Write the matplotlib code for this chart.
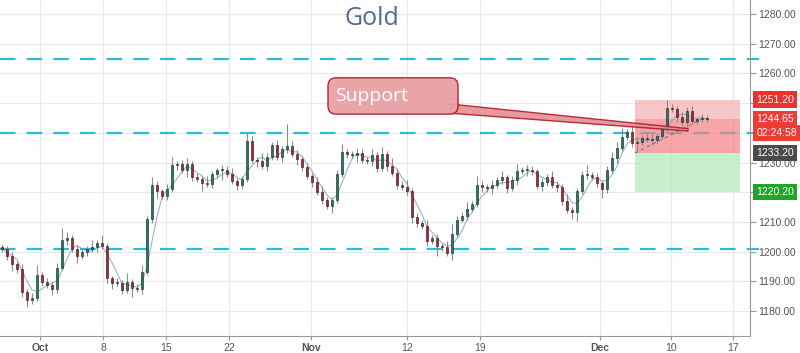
import matplotlib
matplotlib.use("Agg")
import matplotlib.pyplot as plt
import matplotlib.transforms as mtrans
from matplotlib.patches import FancyBboxPatch, Polygon, Rectangle
import numpy as np
import pandas as pd

# closing prices, one candle every 5 px of the original chart
closes = [
    1201.0, 1198.5, 1196.0, 1194.0, 1186.5, 1183.7, 1184.3, 1192.0, 1189.8, 1188.8,
    1187.4, 1194.5, 1204.0, 1204.5, 1201.0, 1198.7, 1200.0, 1200.8, 1201.5, 1202.8,
    1201.9, 1191.0, 1189.4, 1189.4, 1187.1, 1189.8, 1187.7, 1187.5, 1193.2, 1211.0,
    1222.5, 1220.4, 1218.7, 1221.0, 1229.2, 1229.5, 1227.5, 1229.5, 1225.0, 1224.5,
    1223.0, 1222.8, 1226.0, 1227.5, 1227.5, 1226.2, 1223.8, 1222.5, 1224.5, 1237.4,
    1231.0, 1230.5, 1228.8, 1232.0, 1236.0, 1231.8, 1234.5, 1235.5, 1233.0, 1231.2,
    1228.5, 1225.5, 1223.4, 1220.0, 1217.4, 1215.5, 1217.5, 1226.0, 1233.5, 1232.8,
    1232.5, 1233.2, 1231.0, 1230.5, 1232.5, 1228.0, 1233.0, 1229.0, 1226.5, 1222.5,
    1221.8, 1220.5, 1211.6, 1209.5, 1208.7, 1203.5, 1204.6, 1202.0, 1201.5, 1199.5,
    1206.0, 1210.8, 1212.0, 1214.5, 1216.0, 1222.5, 1221.8, 1221.5, 1222.5, 1224.0,
    1225.0, 1221.5, 1224.0, 1227.0, 1227.5, 1227.5, 1227.0, 1222.0, 1223.5, 1225.0,
    1222.5, 1221.8, 1217.0, 1214.0, 1213.5, 1220.5, 1225.8, 1225.8, 1225.0, 1223.0,
    1221.0, 1227.5, 1231.5, 1235.0, 1238.5, 1240.2, 1236.5, 1237.0, 1238.2, 1238.0,
    1237.5, 1239.0, 1241.5, 1248.5, 1248.0, 1245.3, 1243.5, 1247.5, 1244.0, 1244.5,
    1245.0, 1244.65,
]
first_open = 1201.5

wick_hi = [
    1.2, 0.8, 1.5, 0.9, 2.0, 1.1, 1.8, 3.5, 1.0, 1.3,
    0.9, 1.6, 4.0, 2.2, 1.0, 1.4, 0.8, 1.2, 2.5, 1.0,
    2.8, 1.1, 0.9, 1.7, 1.2, 3.0, 1.0, 1.5, 2.2, 0.9,
    2.5, 1.4, 0.8, 1.9, 2.6, 1.0, 1.5, 2.1, 0.9, 1.4,
    1.1, 2.3, 1.0, 0.8, 1.6, 1.2, 2.0, 0.9, 1.1, 2.4,
    1.5, 1.0, 2.8, 1.3, 0.9, 1.6, 1.1, 7.5, 1.8, 1.2,
    0.9, 1.4, 1.0, 1.7, 2.0, 1.1, 0.8, 1.5, 2.9, 1.2,
    1.0, 1.6, 1.3, 0.8, 1.9, 1.1, 2.2, 1.0, 2.6, 1.4,
    1.2, 2.4, 0.9, 1.5, 1.1, 1.8, 1.0, 1.3, 0.9, 2.0,
    3.2, 1.1, 1.5, 2.3, 1.0, 3.0, 1.4, 0.9, 1.6, 1.2,
    2.1, 0.9, 1.3, 2.5, 1.0, 1.7, 1.2, 0.8, 1.4, 1.1,
    2.0, 1.3, 1.0, 2.4, 1.2, 0.9, 1.5, 3.4, 1.1, 1.6,
    1.0, 1.4, 2.2, 1.8, 3.1, 1.2, 2.5, 1.5, 1.0, 1.7,
    2.0, 1.1, 1.4, 2.6, 1.2, 1.0, 1.8, 1.3, 1.5, 0.9,
    1.2, 1.0,
]
wick_lo = [
    1.0, 1.4, 2.5, 1.1, 1.8, 2.2, 1.3, 0.9, 1.5, 1.0,
    2.0, 1.2, 0.8, 1.6, 1.1, 2.4, 1.0, 1.3, 0.9, 1.7,
    1.1, 1.5, 2.0, 0.9, 1.3, 1.0, 3.0, 1.2, 1.6, 1.0,
    1.4, 2.2, 1.0, 1.3, 0.9, 1.8, 1.1, 2.4, 1.2, 1.0,
    2.6, 1.0, 1.5, 1.2, 3.3, 1.1, 0.9, 1.7, 1.3, 1.0,
    1.2, 2.0, 1.0, 1.5, 1.1, 0.9, 1.6, 1.3, 1.0, 2.1,
    1.3, 1.0, 1.8, 0.9, 1.5, 1.2, 2.4, 1.1, 1.0, 1.4,
    0.9, 2.2, 1.2, 1.0, 1.6, 1.3, 0.9, 1.8, 1.1, 1.5,
    1.0, 1.4, 2.0, 1.2, 1.1, 1.6, 1.0, 3.5, 1.3, 1.0,
    2.4, 1.2, 0.9, 1.5, 1.1, 1.0, 1.7, 1.3, 2.2, 1.0,
    1.1, 1.6, 1.0, 1.4, 0.9, 2.1, 1.2, 1.0, 1.5, 1.3,
    1.0, 1.7, 1.2, 0.9, 2.5, 3.2, 1.1, 1.4, 1.0, 1.2,
    3.0, 1.1, 1.0, 1.6, 1.2, 0.9, 1.4, 2.8, 1.1, 1.0,
    1.5, 1.2, 1.0, 1.3, 0.9, 1.6, 1.1, 1.4, 1.0, 1.2,
    0.9, 1.1,
]

tick_labels = ["Oct", "8", "15", "22", "Nov", "12", "19", "Dec", "10", "17"]
tick_pos = [40, 103, 166, 229, 311, 407, 480, 600, 671, 733]
price_ticks = [1180, 1190, 1200, 1210, 1220, 1230, 1240, 1250, 1260, 1270, 1280]
hidden_ticks = [1220, 1240, 1250]  # covered by the price boxes
levels = [1265, 1240, 1201]

entry, stop, target, last = 1233.20, 1251.20, 1220.20, 1244.65
countdown = "02:24:58"

fig = plt.figure(figsize=(8, 3.53), dpi=100)
ax = fig.add_axes([0, 0.048, 0.9375, 0.952])

step = 5
xs = np.arange(len(closes)) * step + 2
opens = [first_open] + closes[:-1]

ax.set_xlim(0, 750)
ax.set_ylim(1171.6, 1284.7)

# horizontal levels
for lv in levels:
    ax.axhline(lv, color="#2bbcd4", lw=1.6, dashes=(7, 5), zorder=2)

# position tool (short)
bx0, bx1 = 635, 740
ax.add_patch(Rectangle((bx0, last), bx1 - bx0, stop - last, fc="#f8b4b6", alpha=0.75, ec="none", zorder=3))
ax.add_patch(Rectangle((bx0, entry), bx1 - bx0, last - entry, fc="#f37f83", alpha=0.7, ec="none", zorder=3))
ax.add_patch(Rectangle((bx0, target), bx1 - bx0, entry - target, fc="#b3ecbc", alpha=0.75, ec="none", zorder=3))
ax.plot([bx0, 702], [entry, last], color="#777777", lw=0.8, ls=(0, (3, 3)), zorder=4)

# candles
for x, o, c, hi, lo in zip(xs, opens, closes, wick_hi, wick_lo):
    up = c >= o
    top, bot = max(o, c), min(o, c)
    ax.vlines(x, bot - lo, top + hi, color="#8a8a8a", lw=0.8, zorder=5)
    col = "#1f7f5c" if up else "#b81f27"
    ax.add_patch(Rectangle((x - 1.3, bot), 2.6, max(top - bot, 0.3), fc=col, ec="#1a1a1a", lw=0.4, zorder=6))

ma = pd.Series(closes).rolling(4, min_periods=1).mean()
ax.plot(xs, ma, color="#7b9fd4", lw=0.8, alpha=0.8, zorder=4)

# Support callout
ax.add_patch(Polygon([(450, 1249.7), (450, 1246.6), (688, 1240.6), (688, 1241.4)],
                     closed=True, fc="#e58f93", ec="#b01c28", lw=1.0, alpha=0.9, zorder=7))
ax.add_patch(FancyBboxPatch((328, 1246.3), 130, 12.2, boxstyle="round,pad=0,rounding_size=8",
                            mutation_aspect=1 / 2.97, fc="#e8a0a4", ec="#b01c28", lw=1.0, alpha=0.95, zorder=8))
ax.text(335, 1252.5, "Support", color="white", fontsize=14, family="Open Sans", va="center", ha="left", zorder=9)

ax.text(372, 1278.5, "Gold", color="#4f6d8a", fontsize=18, family="Open Sans", ha="center", va="center")

# axes styling
ax.grid(True, color="#e8e8e8", lw=0.8, zorder=0)
ax.set_axisbelow(True)
ax.set_xticks(tick_pos)
ax.set_xticklabels(tick_labels, family="Liberation Sans")
for lab in ax.get_xticklabels():
    if lab.get_text() in ("Oct", "Nov", "Dec"):
        lab.set_fontweight("bold")
ax.yaxis.tick_right()
ax.set_yticks(price_ticks)
ax.set_yticklabels(["" if p in hidden_ticks else f"{p:.2f}" for p in price_ticks], family="Liberation Sans")
ax.tick_params(axis="x", labelsize=7.5, colors="#555555", length=3, color="#999999", pad=2)
ax.tick_params(axis="y", labelsize=7.5, colors="#555555", length=4, color="#999999", pad=2)
for s in ("top", "left"):
    ax.spines[s].set_visible(False)
ax.spines["right"].set_color("#999999")
ax.spines["bottom"].set_color("#999999")

# price labels on the right axis
trans = mtrans.blended_transform_factory(ax.transAxes, ax.transData)
for lv in levels:
    ax.plot([1.003, 1.011], [lv, lv], color="#2bbcd4", lw=1.5, transform=trans, clip_on=False)
boxes = [
    (stop, f"{stop:.2f}", "#f0302c"),
    (last, f"{last:.2f}", "#ee3b36"),
    (last - 4.6, countdown, "#ee3b36"),
    (entry, f"{entry:.2f}", "#4a4a4a"),
    (target, f"{target:.2f}", "#1ea52a"),
]
for y, txt, fc in boxes:
    ax.text(1.0085, y, txt, transform=trans, fontsize=7.5, family="Liberation Sans", color="white",
            va="center", ha="left", clip_on=False, zorder=10,
            bbox=dict(boxstyle="square,pad=0.3", fc=fc, ec="none"))

fig.savefig("out.png", dpi=100)
